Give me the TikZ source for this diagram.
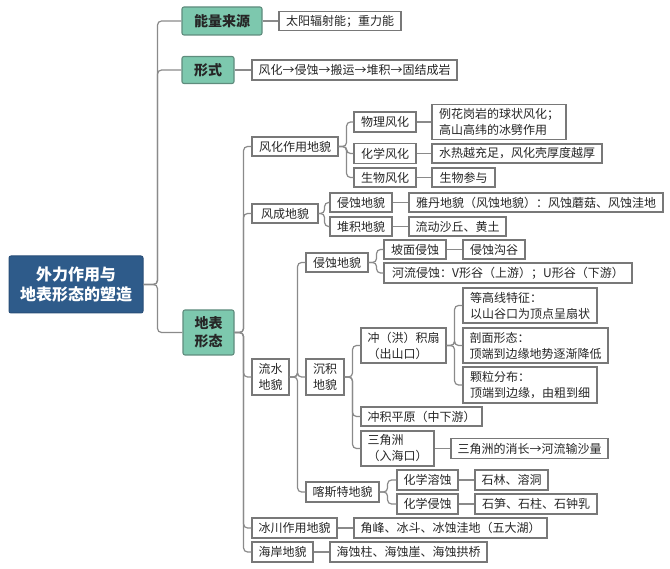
\documentclass[tikz,border=0pt]{standalone}
\usepackage{fontspec}
\setmainfont{Noto Sans CJK SC}
\definecolor{rootblue}{RGB}{46,91,138}
\definecolor{rootedge}{RGB}{40,78,120}
\definecolor{mint}{RGB}{125,200,174}
\definecolor{mintedge}{RGB}{95,140,125}
\definecolor{linegray}{RGB}{138,138,138}
\definecolor{boxgray}{RGB}{120,120,120}
\begin{document}
\begin{tikzpicture}[x=1pt,y=-1pt,
  tb/.style={draw=boxgray,line width=1.1pt,fill=white,inner xsep=3pt,inner ysep=1pt,
    font=\fontsize{12pt}{16pt}\selectfont,align=left,text=black!85},
  gb/.style={draw=mintedge,line width=1.1pt,fill=mint,rounded corners=2pt,inner xsep=3pt,inner ysep=1pt,
    font=\fontsize{14pt}{18pt}\selectfont\bfseries,align=center,text=black!85},
  rb/.style={draw=rootedge,line width=1pt,fill=rootblue,rounded corners=2pt,inner sep=2pt,
    font=\fontsize{16pt}{20pt}\selectfont\bfseries,align=center,text=white},
  conn/.style={draw=linegray,line width=1.2pt,rounded corners=4pt}]
\useasboundingbox (0,0) rectangle (670,569);

% root and level 1
\node[rb,minimum width=134pt,minimum height=57pt] (root) at (76,284.5) {外力作用与\\地表形态的塑造};
\node[gb,minimum width=80pt,minimum height=28pt] (g1) at (222,21) {能量来源};
\node[tb,minimum width=122pt,minimum height=19pt] (t1) at (340,21) {太阳辐射能；重力能};
\node[gb,minimum width=52pt,minimum height=27pt] (g2) at (208,70) {形式};
\node[tb,minimum width=205pt,minimum height=20pt] (t2) at (354.5,70) {风化→侵蚀→搬运→堆积→固结成岩};
\node[gb,minimum width=51pt,minimum height=45pt] (g3) at (208.5,332.5) {地表\\形态};

% level 2
\node[tb,minimum width=86pt,minimum height=19pt] (a1) at (295,146.5) {风化作用地貌};
\node[tb,minimum width=66pt,minimum height=19pt] (a2) at (285,213.5) {风成地貌};
\node[tb,minimum width=37pt,minimum height=36pt] (a3) at (270.5,377) {流水\\地貌};
\node[tb,minimum width=85pt,minimum height=20pt] (a4) at (294.5,528) {冰川作用地貌};
\node[tb,minimum width=61pt,minimum height=20pt] (a5) at (282.5,552) {海岸地貌};

% weathering
\node[tb,minimum width=62pt,minimum height=20pt] (b1) at (385,122) {物理风化};
\node[tb,minimum width=134pt,minimum height=35pt] (b1t) at (499,122) {例花岗岩的球状风化；\\高山高纬的冰劈作用};
\node[tb,minimum width=62pt,minimum height=20pt] (b2) at (385,153.5) {化学风化};
\node[tb,minimum width=170pt,minimum height=19pt] (b2t) at (517,153.5) {水热越充足，风化壳厚度越厚};
\node[tb,minimum width=62pt,minimum height=19pt] (b3) at (385,177.5) {生物风化};
\node[tb,minimum width=63pt,minimum height=19pt] (b3t) at (463.5,177.5) {生物参与};

% wind
\node[tb,minimum width=62pt,minimum height=19pt] (c1) at (361,202.5) {侵蚀地貌};
\node[tb,minimum width=254pt,minimum height=19pt] (c1t) at (536,202.5) {雅丹地貌（风蚀地貌）：风蚀蘑菇、风蚀洼地};
\node[tb,minimum width=62pt,minimum height=19pt] (c2) at (361,226.5) {堆积地貌};
\node[tb,minimum width=97pt,minimum height=19pt] (c2t) at (457.5,226.5) {流动沙丘、黄土};

% water
\node[tb,minimum width=62pt,minimum height=19pt] (d1) at (337,262.5) {侵蚀地貌};
\node[tb,minimum width=38pt,minimum height=36pt] (d2) at (325,377) {沉积\\地貌};
\node[tb,minimum width=73pt,minimum height=20pt] (d3) at (342.5,492) {喀斯特地貌};

\node[tb,minimum width=62pt,minimum height=19pt] (e1) at (415,249.5) {坡面侵蚀};
\node[tb,minimum width=62pt,minimum height=19pt] (e1t) at (494,249.5) {侵蚀沟谷};
\node[tb,minimum width=248pt,minimum height=20pt] (e2) at (508,273) {河流侵蚀：V形谷（上游）；U形谷（下游）};

\node[tb,minimum width=85pt,minimum height=35pt] (f1) at (403.5,345.5) {冲（洪）积扇\\（出山口）};
\node[tb,minimum width=121pt,minimum height=19pt] (f2) at (421.5,416.5) {冲积平原（中下游）};
\node[tb,minimum width=73pt,minimum height=35pt] (f3) at (397.5,448.5) {三角洲\\（入海口）};

\node[tb,minimum width=134pt,minimum height=35pt] (h1) at (530,305.5) {等高线特征：\\以山谷口为顶点呈扇状};
\node[tb,minimum width=145pt,minimum height=35pt] (h2) at (535.5,345.5) {剖面形态：\\顶端到边缘地势逐渐降低};
\node[tb,minimum width=134pt,minimum height=36pt] (h3) at (530,385) {颗粒分布：\\顶端到边缘，由粗到细};
\node[tb,minimum width=157pt,minimum height=20pt] (f3t) at (529.5,448.5) {三角洲的消长→河流输沙量};

\node[tb,minimum width=61pt,minimum height=20pt] (i1) at (427.5,480) {化学溶蚀};
\node[tb,minimum width=73pt,minimum height=20pt] (i1t) at (511.5,480) {石林、溶洞};
\node[tb,minimum width=61pt,minimum height=20pt] (i2) at (427.5,504) {化学侵蚀};
\node[tb,minimum width=122pt,minimum height=20pt] (i2t) at (536,504) {石笋、石柱、石钟乳};

\node[tb,minimum width=193pt,minimum height=20pt] (a4t) at (450.5,528) {角峰、冰斗、冰蚀洼地（五大湖）};
\node[tb,minimum width=157pt,minimum height=20pt] (a5t) at (408.5,552) {海蚀柱、海蚀崖、海蚀拱桥};

% connectors
\begin{scope}[on background layer/.style={}]
\foreach \c in {g1,g2,g3} \draw[conn] (root.east) -- ++(14,0) |- (\c.west);
\draw[conn] (g1.east) -- (t1.west);
\draw[conn] (g2.east) -- (t2.west);
\foreach \c in {a1,a2,a3,a4,a5} \draw[conn] (g3.east) -- ++(9,0) |- (\c.west);
\foreach \c in {b1,b2,b3} \draw[conn] (a1.east) -- ++(8,0) |- (\c.west);
\draw[conn] (b1.east) -- (b1t.west);
\draw[conn] (b2.east) -- (b2t.west);
\draw[conn] (b3.east) -- (b3t.west);
\foreach \c in {c1,c2} \draw[conn] (a2.east) -- ++(6,0) |- (\c.west);
\draw[conn] (c1.east) -- (c1t.west);
\draw[conn] (c2.east) -- (c2t.west);
\foreach \c in {d1,d2,d3} \draw[conn] (a3.east) -- ++(8,0) |- (\c.west);
\foreach \c in {e1,e2} \draw[conn] (d1.east) -- ++(8,0) |- (\c.west);
\draw[conn] (e1.east) -- (e1t.west);
\foreach \c in {f1,f2,f3} \draw[conn] (d2.east) -- ++(8,0) |- (\c.west);
\foreach \c in {h1,h2,h3} \draw[conn] (f1.east) -- ++(8,0) |- (\c.west);
\draw[conn] (f3.east) -- (f3t.west);
\foreach \c in {i1,i2} \draw[conn] (d3.east) -- ++(8,0) |- (\c.west);
\draw[conn] (i1.east) -- (i1t.west);
\draw[conn] (i2.east) -- (i2t.west);
\draw[conn] (a4.east) -- (a4t.west);
\draw[conn] (a5.east) -- (a5t.west);
\end{scope}
\end{tikzpicture}
\end{document}
